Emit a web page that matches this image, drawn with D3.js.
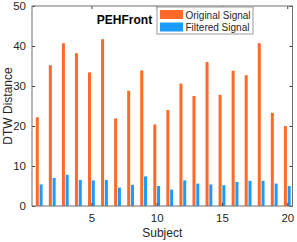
<!DOCTYPE html>
<html>
<head>
<meta charset="utf-8">
<script src="https://cdn.jsdelivr.net/npm/d3@7"></script>
<style>
  body { margin: 0; background: #fff; }
  svg { display: block; font-family: "Liberation Sans", Arial, sans-serif; }
</style>
</head>
<body>
<svg width="297" height="242"></svg>
<script>
'use strict';

const subjects = d3.range(1, 21);
const originalSignal = [22.2, 35.2, 40.7, 38.2, 33.4, 41.7, 21.9, 28.8, 33.9, 20.4,
                        24.0, 30.6, 27.5, 36.0, 27.8, 33.8, 32.7, 40.7, 23.3, 20.0];
const filteredSignal = [5.4, 7.0, 7.8, 6.5, 6.4, 6.5, 4.6, 5.3, 7.4, 5.0,
                        4.1, 6.4, 5.6, 5.4, 5.2, 6.0, 6.3, 6.3, 5.6, 5.0];
const seriesNames = ["Original Signal", "Filtered Signal"];
const seriesColors = ["#ff6a2b", "#189dff"];
const xTicks = [5, 10, 15, 20];
const yTicks = [0, 10, 20, 30, 40, 50];

const L = 32, R = 292.5, T = 6, B = 206;
const svg = d3.select("svg");

const x = d3.scaleLinear().domain([0.45, 20.4]).range([L, R]);
const y = d3.scaleLinear().domain([0, 50]).range([B, T]);
const unit = x(2) - x(1);
const barW = 0.23 * unit;
const offsets = [-0.145, 0.145];

// bars
[originalSignal, filteredSignal].forEach((vals, s) => {
    svg.append("g")
        .selectAll("rect")
        .data(vals)
        .enter()
        .append("rect")
        .attr("x", (d, i) => x(subjects[i] + offsets[s]) - barW / 2)
        .attr("y", d => y(d))
        .attr("width", barW)
        .attr("height", d => y(0) - y(d))
        .attr("fill", seriesColors[s]);
});

// axes (box on, ticks inside)
const axisColor = "#6e6e6e";
const tickLen = 3;

const yAxisL = svg.append("g").attr("transform", "translate(" + L + ",0)")
    .call(d3.axisLeft(y).tickValues(yTicks).tickSize(-tickLen).tickPadding(6));
const yAxisR = svg.append("g").attr("transform", "translate(" + R + ",0)")
    .call(d3.axisRight(y).tickValues(yTicks).tickSize(-tickLen).tickFormat(""));
const xAxisB = svg.append("g").attr("transform", "translate(0," + B + ")")
    .call(d3.axisBottom(x).tickValues(xTicks).tickSize(-tickLen).tickPadding(8));
const xAxisT = svg.append("g").attr("transform", "translate(0," + T + ")")
    .call(d3.axisTop(x).tickValues(xTicks).tickSize(-tickLen).tickFormat(""));

[yAxisL, yAxisR, xAxisB, xAxisT].forEach(g => {
    g.select(".domain").attr("stroke", axisColor).attr("d", null);
    g.selectAll(".tick line").attr("stroke", "#404040");
    g.selectAll("text").attr("fill", "#262626")
        .style("font-size", "11.5px")
        .style("font-family", "'Liberation Sans', Arial, sans-serif");
});

// box outline
svg.append("rect")
    .attr("x", L).attr("y", T)
    .attr("width", R - L).attr("height", B - T)
    .attr("fill", "none")
    .attr("stroke", axisColor)
    .attr("stroke-width", 1);

// labels
svg.append("text")
    .attr("x", (L + R) / 2)
    .attr("y", 237)
    .attr("text-anchor", "middle")
    .attr("fill", "#262626")
    .style("font-size", "12px")
    .text("Subject");

svg.append("text")
    .attr("transform", "translate(12," + ((T + B) / 2) + ") rotate(-90)")
    .attr("text-anchor", "middle")
    .attr("fill", "#262626")
    .style("font-size", "12px")
    .text("DTW Distance");

svg.append("text")
    .attr("x", 124.5)
    .attr("y", 24)
    .attr("text-anchor", "middle")
    .attr("fill", "#000")
    .style("font-size", "12px")
    .style("font-weight", "bold")
    .text("PEHFront");

// legend
const legend = svg.append("g").attr("transform", "translate(157,7)");
legend.append("rect")
    .attr("width", 96).attr("height", 27)
    .attr("fill", "#fff")
    .attr("stroke", "#9a9a9a")
    .attr("stroke-width", 1);

const items = legend.selectAll("g.item")
    .data(seriesNames)
    .enter()
    .append("g")
    .attr("class", "item")
    .attr("transform", (d, i) => "translate(0," + (i * 12.5) + ")");

items.append("rect")
    .attr("x", 3).attr("y", 3)
    .attr("width", 23).attr("height", 9)
    .attr("fill", (d, i) => seriesColors[i]);

items.append("text")
    .attr("x", 28.5).attr("y", 11.5)
    .attr("fill", "#262626")
    .style("font-size", "10px")
    .text(d => d);
</script>
</body>
</html>
